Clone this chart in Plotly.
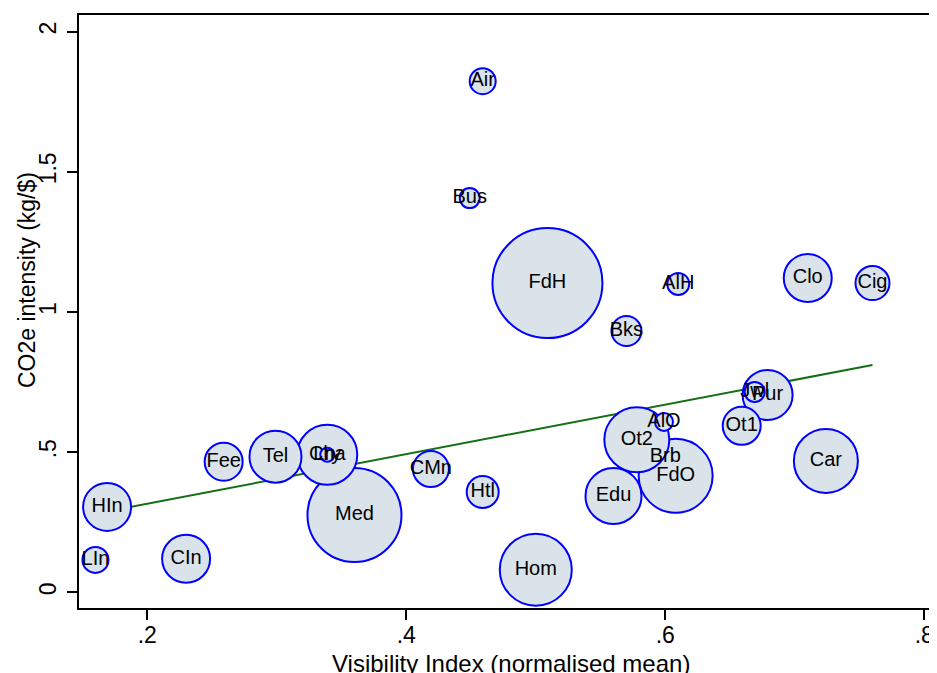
import plotly.graph_objects as go

# ---- data ----
labels = ["FdH", "Med", "Hom", "Brb", "FdO", "Ot2", "Car", "Edu", "Cha", "Tel",
          "Pur", "Clo", "HIn", "CIn", "Ot1", "Fee", "CMn", "Cig", "Htl", "Bks",
          "Air", "LIn", "AlH", "Bus", "Jwl", "AlO", "Lry"]
visibility = [0.509, 0.360, 0.500, 0.600, 0.608, 0.578, 0.724, 0.560, 0.339, 0.299,
              0.679, 0.710, 0.169, 0.230, 0.659, 0.259, 0.419, 0.760, 0.459, 0.570,
              0.459, 0.160, 0.610, 0.449, 0.669, 0.599, 0.339]
co2_intensity = [1.103, 0.276, 0.081, 0.484, 0.416, 0.544, 0.469, 0.344, 0.491, 0.484,
                 0.704, 1.121, 0.305, 0.120, 0.594, 0.466, 0.440, 1.103, 0.358, 0.932,
                 1.823, 0.116, 1.100, 1.406, 0.715, 0.608, 0.491]
weight = [30.25, 22.09, 12.96, 0.36, 13.69, 10.56, 10.24, 7.84, 9.0, 6.76,
          6.25, 5.76, 5.76, 5.76, 3.61, 3.61, 3.24, 2.89, 2.56, 2.25,
          1.69, 1.69, 1.21, 1.0, 1.0, 0.81, 0.49]

fit_x = [0.160, 0.760]
fit_y = [0.281, 0.811]

x_tickvals = [0.2, 0.4, 0.6, 0.8]
x_ticktext = [".2", ".4", ".6", ".8"]
y_tickvals = [0, 0.5, 1, 1.5, 2]
y_ticktext = ["0", ".5", "1", "1.5", "2"]

FONT = "Liberation Sans, Arial, Helvetica, sans-serif"

fig = go.Figure()

fig.add_trace(go.Scatter(
    x=fit_x, y=fit_y, mode="lines",
    line=dict(color="#156f15", width=2),
    hoverinfo="skip", showlegend=False,
))

fig.add_trace(go.Scatter(
    x=visibility, y=co2_intensity, mode="markers+text",
    text=labels, textposition="middle center",
    textfont=dict(family=FONT, size=20, color="black"),
    marker=dict(size=weight, sizemode="area", sizeref=1 / 200,
                color="#dae3ea", line=dict(color="#0000ff", width=2), opacity=1),
    showlegend=False,
))

# page body has an 8px margin: figure is sized/offset to fill the 937x673 window
fig.update_layout(
    width=929, height=665,
    margin=dict(l=71, r=0, t=7, b=65),
    paper_bgcolor="white", plot_bgcolor="white",
    font=dict(family=FONT, color="black"),
    xaxis=dict(range=[0.1473, 0.8098], tickvals=x_tickvals, ticktext=x_ticktext,
               ticks="outside", ticklen=10, tickwidth=1.5, tickcolor="black",
               showline=True, linecolor="black", linewidth=2, mirror=True,
               showgrid=False, zeroline=False, ticklabelstandoff=-5,
               tickfont=dict(family=FONT, size=23, color="black")),
    yaxis=dict(range=[-0.0556, 2.059], tickvals=y_tickvals, ticktext=y_ticktext,
               ticks="outside", ticklen=10, tickwidth=1.5, tickcolor="black",
               showline=True, linecolor="black", linewidth=2, mirror=False,
               showgrid=False, zeroline=False, tickangle=-90, ticklabelstandoff=2,
               tickfont=dict(family=FONT, size=23, color="black")),
    annotations=[
        dict(text="Visibility Index (normalised mean)", xref="paper", yref="paper",
             x=0.503, y=-0.0944, xanchor="center", yanchor="middle", showarrow=False,
             font=dict(family=FONT, size=24, color="black")),
        dict(text="CO2e intensity (kg/$)", xref="paper", yref="paper",
             x=-0.0606, y=0.553, xanchor="center", yanchor="middle", showarrow=False,
             textangle=-90, font=dict(family=FONT, size=23, color="black")),
    ],
)

fig.write_html("out.html")
